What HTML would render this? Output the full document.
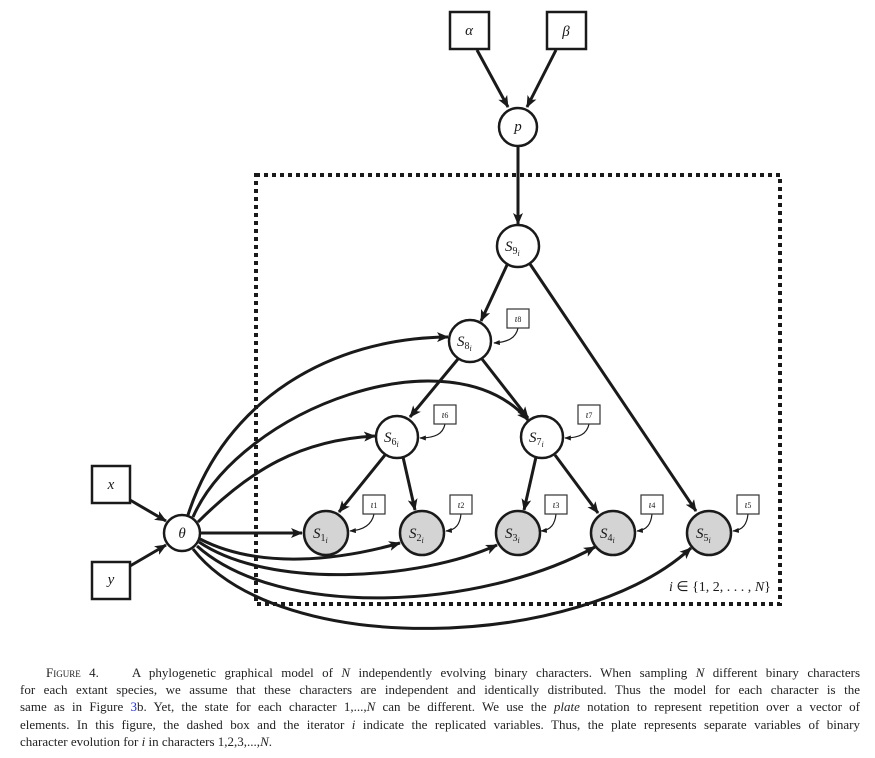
<!DOCTYPE html>
<html><head><meta charset="utf-8"><style>
html,body{margin:0;padding:0;background:#fff;}
body{width:875px;height:758px;position:relative;overflow:hidden;}
svg{position:absolute;left:0;top:0;}
.cap{position:absolute;left:20px;top:664px;width:840px;font-family:"Liberation Serif",serif;font-size:13px;line-height:17.2px;color:#222;}
.cap div{text-align:justify;text-align-last:justify;white-space:nowrap;overflow:visible;}
.cap div.last{text-align-last:left;}
</style></head><body>
<svg width="875" height="660" viewBox="0 0 875 660" font-family="Liberation Serif, serif">
<defs>
<marker id="a" viewBox="0 0 12 10" refX="11" refY="5" markerWidth="12" markerHeight="10" markerUnits="userSpaceOnUse" orient="auto"><path d="M0,0 L12,5 L0,10 L3,5 Z" fill="#1a1a1a"/></marker>
<marker id="s" viewBox="0 0 8 6" refX="7" refY="3" markerWidth="7" markerHeight="5" markerUnits="userSpaceOnUse" orient="auto"><path d="M0,0 L8,3 L0,6 Z" fill="#1a1a1a"/></marker>
</defs>
<rect x="256" y="175" width="524" height="429" fill="none" stroke="#1a1a1a" stroke-width="4" stroke-dasharray="4,4"/>
<g stroke="#1a1a1a" stroke-width="3" fill="none" marker-end="url(#a)">
<line x1="477" y1="50" x2="508" y2="107"/>
<line x1="556" y1="50" x2="527" y2="107"/>
<line x1="518" y1="146" x2="518" y2="224"/>
<line x1="507" y1="265" x2="481" y2="321"/>
<line x1="530" y1="264" x2="696" y2="511"/>
<line x1="458" y1="359" x2="410" y2="417"/>
<line x1="482" y1="359" x2="528" y2="418"/>
<line x1="385" y1="455" x2="339" y2="512"/>
<line x1="403" y1="457" x2="415" y2="510"/>
<line x1="536" y1="457" x2="524" y2="510"/>
<line x1="555" y1="455" x2="598" y2="513"/>
<line x1="130" y1="500" x2="166" y2="521"/>
<line x1="130" y1="566" x2="166" y2="545"/>
<line x1="201" y1="533" x2="302" y2="533"/>
<path d="M188,515 C225,400 330,338 448,337"/>
<path d="M193,517 C240,410 450,330 528,420"/>
<path d="M198,522 C250,470 300,440 375,436"/>
<path d="M200,539 C260,570 340,560 400,543"/>
<path d="M199,542 C270,590 420,580 497,545"/>
<path d="M197,546 C280,620 480,610 595,547"/>
<path d="M193,549 C280,660 580,650 691,548"/>
</g>
<g stroke="#1a1a1a" stroke-width="1.2" fill="none" marker-end="url(#s)">
<path d="M518,328 C516,338 508,342 494,343"/>
<path d="M445,424 C443,434 435,438 420,438"/>
<path d="M589,424 C587,434 579,438 565,438"/>
<path d="M374,514 C372,524 364,530 350,531"/>
<path d="M461,514 C460,524 456,530 446,531"/>
<path d="M556,514 C555,524 551,530 541,531"/>
<path d="M652,514 C651,524 647,530 637,531"/>
<path d="M748,514 C747,524 743,530 733,531"/>
</g>
<g stroke="#1a1a1a" stroke-width="2.5" fill="#fff">
<rect x="450" y="12" width="39" height="37"/>
<rect x="547" y="12" width="39" height="37"/>
<rect x="92" y="466" width="38" height="37"/>
<rect x="92" y="562" width="38" height="37"/>
<circle cx="518" cy="127" r="19"/>
<circle cx="518" cy="246" r="21"/>
<circle cx="470" cy="341" r="21"/>
<circle cx="397" cy="437" r="21"/>
<circle cx="542" cy="437" r="21"/>
<circle cx="182" cy="533" r="18"/>
</g>
<g stroke="#1a1a1a" stroke-width="2.5" fill="#d4d4d4">
<circle cx="326" cy="533" r="22"/>
<circle cx="422" cy="533" r="22"/>
<circle cx="518" cy="533" r="22"/>
<circle cx="613" cy="533" r="22"/>
<circle cx="709" cy="533" r="22"/>
</g>
<g stroke="#333" stroke-width="1.2" fill="#fff">
<rect x="507" y="309" width="22" height="19"/>
<rect x="434" y="405" width="22" height="19"/>
<rect x="578" y="405" width="22" height="19"/>
<rect x="363" y="495" width="22" height="19"/>
<rect x="450" y="495" width="22" height="19"/>
<rect x="545" y="495" width="22" height="19"/>
<rect x="641" y="495" width="22" height="19"/>
<rect x="737" y="495" width="22" height="19"/>
</g>
<g fill="#1a1a1a" font-style="italic" font-size="15" text-anchor="middle">
<text x="469" y="35">α</text>
<text x="566" y="36">β</text>
<text x="111" y="489">x</text>
<text x="111" y="584">y</text>
<text x="518" y="131">p</text>
<text x="182" y="538">θ</text>
</g>
<g fill="#1a1a1a" font-size="15" font-style="italic">
<text x="505" y="251">S<tspan font-size="10" font-style="normal" dy="3">9</tspan><tspan font-size="8" dy="2">i</tspan></text>
<text x="457" y="346">S<tspan font-size="10" font-style="normal" dy="3">8</tspan><tspan font-size="8" dy="2">i</tspan></text>
<text x="384" y="442">S<tspan font-size="10" font-style="normal" dy="3">6</tspan><tspan font-size="8" dy="2">i</tspan></text>
<text x="529" y="442">S<tspan font-size="10" font-style="normal" dy="3">7</tspan><tspan font-size="8" dy="2">i</tspan></text>
<text x="313" y="538">S<tspan font-size="10" font-style="normal" dy="3">1</tspan><tspan font-size="8" dy="2">i</tspan></text>
<text x="409" y="538">S<tspan font-size="10" font-style="normal" dy="3">2</tspan><tspan font-size="8" dy="2">i</tspan></text>
<text x="505" y="538">S<tspan font-size="10" font-style="normal" dy="3">3</tspan><tspan font-size="8" dy="2">i</tspan></text>
<text x="600" y="538">S<tspan font-size="10" font-style="normal" dy="3">4</tspan><tspan font-size="8" dy="2">i</tspan></text>
<text x="696" y="538">S<tspan font-size="10" font-style="normal" dy="3">5</tspan><tspan font-size="8" dy="2">i</tspan></text>
</g>
<g fill="#1a1a1a" font-size="10" font-style="italic" text-anchor="middle">
<text x="518" y="322">ι<tspan font-style="normal" font-size="8">8</tspan></text>
<text x="445" y="418">ι<tspan font-style="normal" font-size="8">6</tspan></text>
<text x="589" y="418">ι<tspan font-style="normal" font-size="8">7</tspan></text>
<text x="374" y="508">ι<tspan font-style="normal" font-size="8">1</tspan></text>
<text x="461" y="508">ι<tspan font-style="normal" font-size="8">2</tspan></text>
<text x="556" y="508">ι<tspan font-style="normal" font-size="8">3</tspan></text>
<text x="652" y="508">ι<tspan font-style="normal" font-size="8">4</tspan></text>
<text x="748" y="508">ι<tspan font-style="normal" font-size="8">5</tspan></text>
</g>
<text x="669" y="591" font-size="14" fill="#1a1a1a"><tspan font-style="italic">i</tspan> ∈ {1, 2, . . . , <tspan font-style="italic">N</tspan>}</text>
</svg>
<div class="cap">
<div style="padding-left:26px"><span style="font-variant:small-caps">Figure</span> 4.&nbsp;&nbsp;&nbsp; A phylogenetic graphical model of <i>N</i> independently evolving binary characters. When sampling <i>N</i> different binary characters</div>
<div>for each extant species, we assume that these characters are independent and identically distributed. Thus the model for each character is the</div>
<div>same as in Figure <span style="color:#2233cc">3</span>b. Yet, the state for each character 1,...,<i>N</i> can be different. We use the <i>plate</i> notation to represent repetition over a vector of</div>
<div>elements. In this figure, the dashed box and the iterator <i>i</i> indicate the replicated variables. Thus, the plate represents separate variables of binary</div>
<div class="last">character evolution for <i>i</i> in characters 1,2,3,...,<i>N</i>.</div>
</div>
</body></html>
